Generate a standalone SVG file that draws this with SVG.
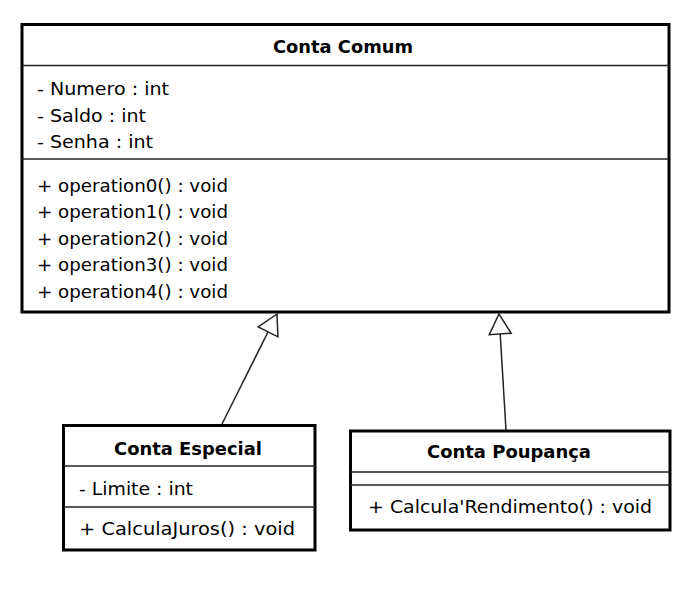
<svg xmlns="http://www.w3.org/2000/svg" width="693" height="616" viewBox="0 0 693 616">
<style>
.box{fill:#fff;stroke:#000;stroke-width:3}
.div{stroke:#222;stroke-width:1.5}
.t{font-family:"DejaVu Sans","Liberation Sans",sans-serif;font-size:17.5px;fill:#000}
.b{font-weight:bold;text-anchor:middle}
.edge{stroke:#222;stroke-width:1.5;fill:none;marker-end:url(#gen)}
</style>
<defs>
<marker id="gen" markerUnits="userSpaceOnUse" viewBox="-22 -12 23 24" refX="0" refY="0" markerWidth="23" markerHeight="24" orient="auto" overflow="visible">
<path d="M0,0 L-20,-11 L-20,11 Z" fill="#fff" stroke="#222" stroke-width="1.5"/>
</marker>
</defs>
<rect width="693" height="616" fill="#fff"/>
<g id="conta-comum">
<rect class="box" x="22" y="24.5" width="647" height="287.5"/>
<line class="div" x1="22" y1="65.5" x2="669" y2="65.5"/>
<line class="div" x1="22" y1="159" x2="669" y2="159"/>
<text class="t b" x="343" y="53" textLength="140" lengthAdjust="spacingAndGlyphs">Conta Comum</text>
<text class="t" x="37" y="95" textLength="132" lengthAdjust="spacingAndGlyphs">- Numero : int</text>
<text class="t" x="37" y="121.5" textLength="109" lengthAdjust="spacingAndGlyphs">- Saldo : int</text>
<text class="t" x="37" y="148" textLength="116" lengthAdjust="spacingAndGlyphs">- Senha : int</text>
<text class="t" x="37" y="191.5" textLength="191" lengthAdjust="spacingAndGlyphs">+ operation0() : void</text>
<text class="t" x="37" y="218" textLength="191" lengthAdjust="spacingAndGlyphs">+ operation1() : void</text>
<text class="t" x="37" y="244.5" textLength="191" lengthAdjust="spacingAndGlyphs">+ operation2() : void</text>
<text class="t" x="37" y="271" textLength="191" lengthAdjust="spacingAndGlyphs">+ operation3() : void</text>
<text class="t" x="37" y="297.5" textLength="191" lengthAdjust="spacingAndGlyphs">+ operation4() : void</text>
</g>
<g id="conta-especial">
<rect class="box" x="63.5" y="425.5" width="251.5" height="124.5"/>
<line class="div" x1="63.5" y1="466" x2="315" y2="466"/>
<line class="div" x1="63.5" y1="507" x2="315" y2="507"/>
<text class="t b" x="188" y="455" textLength="148" lengthAdjust="spacingAndGlyphs">Conta Especial</text>
<text class="t" x="79" y="495" textLength="114" lengthAdjust="spacingAndGlyphs">- Limite : int</text>
<text class="t" x="79" y="535" textLength="216" lengthAdjust="spacingAndGlyphs">+ CalculaJuros() : void</text>
</g>
<g id="conta-poupanca">
<rect class="box" x="350.5" y="431" width="319.5" height="99"/>
<line class="div" x1="350.5" y1="472" x2="670" y2="472"/>
<line class="div" x1="350.5" y1="485" x2="670" y2="485"/>
<text class="t b" x="509" y="458" textLength="164" lengthAdjust="spacingAndGlyphs">Conta Poupança</text>
<text class="t" x="368" y="513" textLength="284" lengthAdjust="spacingAndGlyphs">+ Calcula'Rendimento() : void</text>
</g>
<g id="connectors">
<line class="edge" x1="222" y1="424" x2="277" y2="314"/>
<line class="edge" x1="506" y1="430" x2="499" y2="314"/>
</g>
</svg>
